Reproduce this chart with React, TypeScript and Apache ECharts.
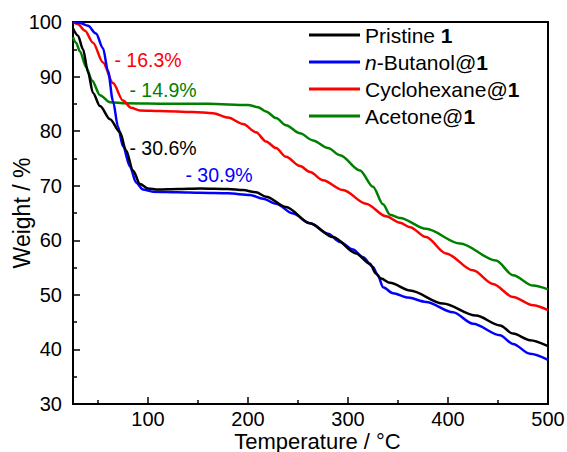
import React, { useEffect, useRef } from "react";
import * as echarts from "echarts";

const FONT = '"Liberation Sans", Arial, Helvetica, sans-serif';

// Series names (legend order) and line colours
const seriesNames = ["Pristine 1", "n-Butanol@1", "Cyclohexane@1", "Acetone@1"];
const seriesColors = ["#000000", "#0000ff", "#ff0000", "#008000"];

// TGA curves: temperature (°C) and remaining weight (%)
const pristineT = [25, 30, 35, 40, 45, 52, 62, 72, 78, 85, 92, 100, 110, 130, 152, 180, 195, 208, 218, 238, 262, 285, 308, 322, 328, 333, 342, 362, 395, 428, 452, 465, 482, 500];
const pristineW = [98.8, 97.5, 95.0, 90.8, 87.0, 84.6, 82.2, 79.8, 76.5, 72.8, 70.3, 69.5, 69.3, 69.4, 69.5, 69.4, 69.2, 68.8, 68.0, 66.1, 63.1, 60.6, 57.6, 55.7, 53.9, 53.0, 52.2, 50.8, 48.4, 46.2, 44.4, 42.9, 41.7, 40.6];

const butanolT = [25, 32, 40, 48, 55, 60, 65, 70, 75, 82, 88, 95, 105, 130, 152, 180, 202, 215, 228, 245, 262, 280, 292, 305, 315, 325, 330, 335, 345, 360, 378, 405, 425, 452, 465, 482, 500];
const butanolW = [100, 99.8, 99.3, 97.9, 95.2, 91.0, 85.5, 80.8, 77.2, 73.5, 70.6, 69.3, 68.9, 68.8, 68.7, 68.6, 68.3, 67.6, 66.7, 64.9, 63.1, 61.2, 59.7, 58.3, 56.9, 55.1, 53.5, 51.4, 50.3, 49.5, 48.7, 46.8, 44.7, 42.6, 41.0, 39.2, 38.1];

const cyclohexaneT = [25, 30, 37, 45, 55, 65, 75, 83, 92, 112, 145, 165, 180, 195, 208, 218, 228, 238, 252, 262, 275, 295, 318, 338, 352, 362, 378, 398, 425, 445, 465, 485, 500];
const cyclohexaneW = [100, 99.6, 98.4, 96.2, 92.6, 88.8, 85.6, 84.3, 83.8, 83.7, 83.5, 83.3, 82.5, 81.3, 79.8, 78.1, 76.9, 75.3, 73.6, 72.5, 71.0, 69.2, 66.7, 64.4, 63.2, 62.4, 60.6, 57.6, 54.5, 52.0, 49.6, 48.1, 47.2];

const acetoneT = [25, 28, 32, 38, 44, 52, 62, 78, 120, 160, 200, 210, 218, 228, 238, 252, 265, 280, 292, 312, 325, 335, 342, 352, 378, 412, 448, 465, 485, 500];
const acetoneW = [97.2, 96.2, 94.6, 91.8, 89.3, 86.6, 85.3, 85.1, 85.0, 85.0, 84.8, 84.4, 83.6, 82.4, 81.1, 79.6, 78.3, 76.9, 75.6, 72.8, 69.8, 66.6, 64.7, 64.1, 62.1, 59.4, 56.3, 53.6, 51.7, 51.0];

// Weight-loss annotations: text and the (°C, %) point they are centred on
const lossText = ["- 30.6%", "- 30.9%", "- 16.3%", "- 14.9%"];
const lossAtT = [115, 171, 100, 115];
const lossAtW = [76.9, 71.9, 93.0, 87.5];

// Axis ticks
const xMajorTicks = [100, 200, 300, 400, 500];
const xMinorTicks = [50, 150, 250, 350, 450];

const curves = [
  [pristineT, pristineW],
  [butanolT, butanolW],
  [cyclohexaneT, cyclohexaneW],
  [acetoneT, acetoneW],
];

const LEGEND_FS = 21;
const legendRich = {
  r: { fontSize: LEGEND_FS, fontFamily: FONT, color: "#000", lineHeight: LEGEND_FS },
  b: { fontSize: LEGEND_FS, fontFamily: FONT, color: "#000", fontWeight: "bold", lineHeight: LEGEND_FS },
  i: { fontSize: LEGEND_FS, fontFamily: FONT, color: "#000", fontStyle: "italic", lineHeight: LEGEND_FS },
};

function legendLabel(name: string): string {
  if (name === "Pristine 1") return "{r|Pristine }{b|1}";
  if (name.startsWith("n-")) return "{i|n}{r|" + name.slice(1, -1) + "}{b|1}";
  return "{r|" + name.slice(0, -1) + "}{b|1}";
}

export default function App() {
  const ref = useRef<HTMLDivElement>(null);

  useEffect(() => {
    if (!ref.current) return;
    const chart = echarts.init(ref.current, null, { renderer: "svg" });

    const series = seriesNames.map((name, k) => ({
      name,
      type: "line",
      xAxisIndex: 0,
      yAxisIndex: 0,
      data: curves[k][0].map((t, j) => [t, curves[k][1][j]]),
      showSymbol: false,
      symbol: "none",
      smooth: 0.3,
      smoothMonotone: "x",
      color: seriesColors[k],
      lineStyle: { width: 2.5, color: seriesColors[k] },
      z: 10 - k,
      markPoint: {
        silent: true,
        symbol: "circle",
        symbolSize: 0,
        label: {
          show: true,
          position: "inside",
          formatter: lossText[k],
          color: seriesColors[k],
          fontSize: 19.5,
          fontFamily: FONT,
        },
        data: [{ coord: [lossAtT[k], lossAtW[k]] }],
      },
    }));

    chart.setOption({
      animation: false,
      backgroundColor: "#ffffff",
      grid: {
        left: 73,
        right: 19,
        top: 22,
        bottom: 48,
        show: true,
        borderColor: "#000",
        borderWidth: 2,
        outerBoundsMode: "none",
      },
      legend: {
        data: seriesNames,
        orient: "vertical",
        left: 309,
        top: 24.5,
        padding: 0,
        itemWidth: 51,
        itemHeight: 3,
        itemGap: 6,
        icon: "rect",
        formatter: legendLabel,
        textStyle: { fontSize: LEGEND_FS, fontFamily: FONT, color: "#000", rich: legendRich },
      },
      xAxis: [
        {
          type: "value",
          min: 25,
          max: 500,
          position: "bottom",
          name: "Temperature / °C",
          nameLocation: "middle",
          nameGap: 26,
          nameMoveOverlap: false,
          nameTextStyle: { fontSize: 22, fontFamily: FONT, color: "#000", padding: [0, 0, 0, 14] },
          axisLine: { show: true, lineStyle: { color: "#000", width: 2 } },
          axisTick: { show: true, inside: true, length: 7, customValues: xMajorTicks, lineStyle: { color: "#000", width: 1.5 } },
          axisLabel: { customValues: xMajorTicks, fontSize: 20, fontFamily: FONT, color: "#000", margin: 5 },
          splitLine: { show: false },
        },
        {
          type: "value",
          min: 25,
          max: 500,
          position: "bottom",
          axisLine: { show: false },
          axisTick: { show: true, inside: true, length: 4, customValues: xMinorTicks, lineStyle: { color: "#000", width: 1.5 } },
          axisLabel: { show: false },
          splitLine: { show: false },
        },
      ],
      yAxis: {
        type: "value",
        min: 30,
        max: 100,
        interval: 10,
        name: "Weight / %",
        nameLocation: "middle",
        nameGap: 40,
        nameMoveOverlap: false,
        nameTextStyle: { fontSize: 23, fontFamily: FONT, color: "#000" },
        axisLine: { show: true, lineStyle: { color: "#000", width: 2 } },
        axisTick: { show: true, inside: true, length: 7, lineStyle: { color: "#000", width: 1.5 } },
        minorTick: { show: true, splitNumber: 2, length: 4, lineStyle: { color: "#000", width: 1.5 } },
        axisLabel: { fontSize: 20, fontFamily: FONT, color: "#000", margin: 11 },
        splitLine: { show: false },
      },
      series,
    });

    return () => chart.dispose();
  }, []);

  return (
    <div
      ref={ref}
      style={{ position: "fixed", left: 0, top: 0, width: 567, height: 452, background: "#fff" }}
    />
  );
}
